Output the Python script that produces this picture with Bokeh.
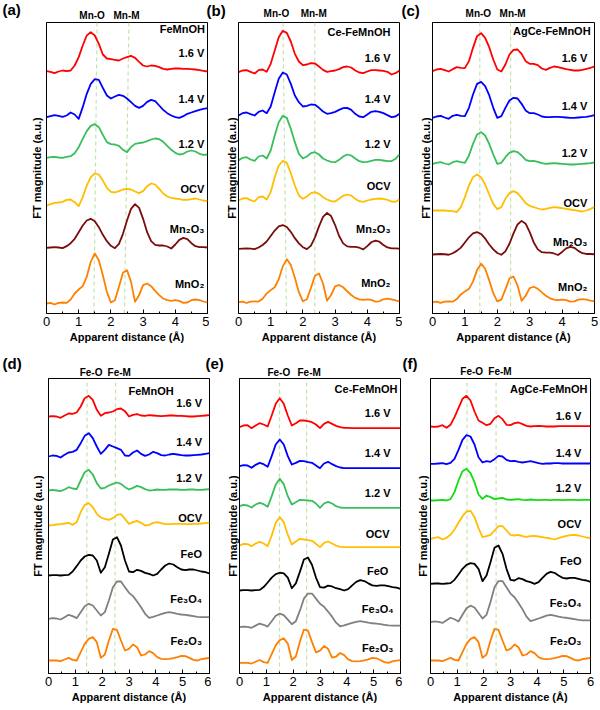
from bokeh.plotting import figure
from bokeh.layouts import row, column
from bokeh.models import Range1d, Label, FixedTicker
from bokeh.embed import file_html
from bokeh.resources import INLINE

FONT = "Liberation Sans"

# ---------------- sampling grids (apparent distance, Å) ----------------
X_TOP = [0.0, 0.125, 0.25, 0.375, 0.5, 0.625, 0.75, 0.875, 1.0, 1.125, 1.25, 1.375, 1.5, 1.625,
         1.75, 1.875, 2.0, 2.125, 2.25, 2.375, 2.5, 2.625, 2.75, 2.875, 3.0, 3.125, 3.25, 3.375,
         3.5, 3.625, 3.75, 3.875, 4.0, 4.125, 4.25, 4.375, 4.5, 4.625, 4.75, 4.875, 5.0]
X_BOT = [0.0, 0.15, 0.3, 0.45, 0.6, 0.75, 0.9, 1.05, 1.2, 1.35, 1.5, 1.65, 1.8, 1.95, 2.1, 2.25,
         2.4, 2.55, 2.7, 2.85, 3.0, 3.15, 3.3, 3.45, 3.6, 3.75, 3.9, 4.05, 4.2, 4.35, 4.5, 4.65,
         4.8, 4.95, 5.1, 5.25, 5.4, 5.55, 5.7, 5.85, 6.0]

# ---------------- Mn K-edge FT magnitudes (a.u., relative to each trace baseline) ----------------
A_16 = [0, -2, -6, -1, 2, 0, 2, 17, 42, 77, 107, 117, 107, 82, 50, 38, 36, 34, 32, 38, 42, 46, 40, 28,
        17, 14, 17, 16, 12, 7, 5, 7, 8, 8, 7, 7, 6, 5, 3, 1, -1]
A_14 = [0, 3, 6, 4, 1, 5, 14, 8, -5, 30, 70, 100, 114, 112, 88, 65, 56, 62, 67, 64, 56, 45, 34, 28,
        34, 46, 52, 48, 35, 22, 12, 5, 0, -2, 3, 10, 14, 18, 22, 25, 27]
A_12 = [0, 2, 3, 1, 0, 3, 5, 14, 32, 57, 80, 96, 101, 92, 69, 47, 41, 40, 36, 24, 17, 32, 42, 44,
        46, 50, 55, 58, 56, 48, 36, 24, 15, 10, 12, 19, 22, 19, 12, 9, 10]
A_OCV = [0, 4, 8, 9, 11, 17, 18, 10, -2, 25, 60, 85, 96, 93, 75, 53, 41, 39, 43, 48, 50, 48, 42, 37,
         43, 58, 66, 63, 50, 36, 27, 23, 21, 19, 17, 17, 19, 21, 18, 15, 13]

B_16 = [0, 5, 6, 1, -4, 6, 8, 1, 25, 65, 105, 124, 118, 92, 55, 32, 21, 23, 27, 26, 17, 7, 1, 3, 5,
        9, 15, 17, 14, 5, -1, -3, 2, 6, 6, 5, 4, 1, -7, -3, 5]
B_14 = [0, 7, 9, 4, 0, 11, 15, 7, 27, 70, 110, 129, 123, 95, 60, 40, 27, 29, 33, 32, 23, 12, 5, 7,
        11, 17, 22, 23, 17, 5, -3, -5, 3, 11, 13, 11, 7, 1, -5, -3, 5]
B_12 = [0, 8, 10, 3, -1, 12, 15, 6, 30, 75, 115, 134, 128, 95, 55, 20, 6, 12, 22, 25, 18, 6, 0, -4,
        -5, 2, 12, 18, 15, 6, -2, -5, -4, -1, 2, 2, 0, -2, -2, 5, 18]
B_OCV = [0, 6, 7, 1, -3, 10, 12, 3, 25, 70, 105, 119, 113, 82, 45, 15, 5, 12, 22, 25, 20, 10, 3, -2,
         -3, 5, 14, 18, 15, 5, -2, -4, 0, 3, 5, 6, 5, 2, -3, -4, 3]

C_16 = [0, 5, 7, 3, -1, 6, 12, 10, 9, 30, 70, 105, 114, 100, 72, 35, 5, -1, 20, 50, 64, 65, 52, 30,
        22, 22, 18, 8, 4, 10, 14, 12, 9, 6, 4, 2, 2, 4, 7, 10, 14]
C_14 = [0, 4, 6, 1, -3, 6, 9, 6, 5, 30, 70, 102, 108, 95, 68, 30, 0, 5, 30, 52, 60, 58, 42, 22, 14,
        14, 10, 4, 2, 2, 3, 3, 2, 1, 0, 0, 1, 2, 3, 5, 8]
C_12 = [0, 3, 5, 1, -2, 5, 8, 5, 3, 25, 60, 88, 95, 85, 60, 28, 0, 3, 20, 33, 38, 35, 25, 12, 8, 9,
        6, 2, 0, 1, 2, 1, 0, -1, -2, -2, -1, 0, 1, 2, 4]
C_OCV = [0, 0, 0, 0, -1, -2, -5, 10, 40, 75, 100, 108, 100, 78, 48, 20, 4, 10, 35, 52, 58, 52, 38, 22,
         14, 10, 6, 3, 5, 8, 10, 9, 7, 5, 3, 1, -1, -3, 0, 5, 10]

MN2O3 = [0, 1, 2, 1, -1, 5, 14, 27, 47, 67, 82, 87, 80, 62, 39, 20, 6, -1, 12, 42, 82, 117, 131, 120,
         87, 47, 20, 9, 7, 7, 4, -2, 10, 24, 30, 26, 14, 5, 2, 2, 1]
MNO2 = [0, 2, -3, 2, 3, 2, 12, 30, 42, 52, 80, 125, 150, 130, 85, 35, 3, 10, 50, 92, 100, 65, 5, 25,
        55, 60, 52, 38, 25, 15, 10, 8, 10, 8, 2, 3, 10, 12, 10, 6, 3]

# ---------------- Fe K-edge FT magnitudes ----------------
D_16 = [0, 1, 0, -4, 3, 9, 8, 12, 30, 55, 62, 50, 20, 2, 10, 12, 15, 22, 24, 16, 0, 5, 7, 3, 2, 4,
        3, 2, 1, 2, 3, 3, 2, 2, 1, 0, 0, 1, 2, 3, 4]
D_14 = [0, 3, 2, -3, 5, 12, 14, 20, 40, 62, 70, 55, 30, 8, 20, 35, 30, 25, 20, 3, 2, 12, 18, 8, 2,
        6, 14, 10, 4, 3, 6, 8, 6, 4, 3, 3, 4, 5, 6, 8, 10]
D_12 = [0, 2, 0, -2, 3, 10, 6, 4, 30, 55, 62, 48, 22, 6, 8, 15, 20, 24, 20, 10, 3, 8, 14, 10, 4, 0,
        1, 3, 2, 2, 3, 3, 3, 2, 2, 3, 3, 2, 2, 3, 4]
D_OCV = [0, 1, 3, 4, 6, 8, 2, 10, 40, 62, 67, 55, 35, 24, 20, 17, 22, 32, 34, 20, 5, 10, 14, 8, 0, 2,
         8, 10, 7, 4, 4, 5, 5, 5, 4, 4, 5, 5, 6, 7, 8]

E_16 = [0, 5, 6, -3, 5, 12, 8, 2, 35, 70, 87, 70, 35, 5, 12, 20, 20, 18, 15, 8, -3, 10, 16, 10, 4,
        0, -2, -2, -3, -3, -3, -3, -3, -3, -3, -3, -3, -3, -3, -3, -3]
E_14 = [0, 3, 2, -5, 4, 10, 6, -2, 30, 65, 80, 65, 30, 5, 10, 16, 15, 12, 10, 2, -6, 8, 13, 6, 0,
        -4, -6, -6, -6, -6, -6, -6, -6, -6, -6, -6, -6, -6, -6, -6, -6]
E_12 = [0, 4, 2, -4, 5, 10, 6, -2, 30, 65, 82, 66, 30, 5, 12, 19, 18, 17, 16, 8, -5, 8, 13, 8, 0,
        -4, -5, -5, -5, -5, -5, -5, -5, -5, -5, -5, -5, -5, -5, -5, -5]
E_OCV = [0, 5, 4, -2, 6, 11, 6, -2, 30, 68, 85, 70, 32, 3, 12, 20, 18, 16, 14, 5, -5, 8, 12, 6, 0,
         -4, -5, -5, -5, -5, -5, -5, -5, -5, -5, -5, -5, -5, -5, -5, -5]

F_16 = [0, -1, 0, 4, -4, 5, 28, 55, 83, 92, 78, 45, 18, 11, 4, 8, 25, 32, 22, 5, 4, 10, 12, 7, 2, 0,
        1, 2, 1, 0, 0, 0, 1, 1, 1, 1, 1, 1, 1, 1, 1]
F_14 = [0, 0, 1, 2, -1, 3, 15, 42, 72, 86, 82, 58, 20, 4, 8, 6, 14, 24, 22, 12, 8, 9, 6, 4, 6, 8, 5,
        2, 0, 1, 1, 2, 2, 1, 1, 1, 1, 1, 1, 1, 1]
F_12 = [0, 0, 1, 2, 0, 4, 25, 60, 88, 95, 82, 55, 18, 5, 15, 10, 4, 6, 8, 3, 2, 3, 4, 2, 1, 3, 2, 1,
        2, 2, 1, 2, 2, 1, 2, 2, 2, 1, 2, 2, 2]
F_OCV = [0, 3, 5, -2, 3, 12, 28, 48, 68, 82, 84, 65, 32, 5, 8, 12, 25, 38, 38, 25, 12, 10, 12, 8, 6,
         8, 9, 7, 5, 3, 1, -2, 2, 6, 9, 11, 12, 10, 7, 4, 2]

FEO = [0, 1, 1, 0, 1, 2, 12, 28, 45, 57, 62, 60, 45, 8, 25, 65, 108, 115, 90, 45, 12, 10, 17, 14, 8,
       5, 0, 5, 18, 30, 36, 33, 25, 18, 16, 18, 18, 15, 12, 10, 6]
FE3O4 = [0, 2, 1, -2, 5, 12, 8, 2, 20, 38, 45, 40, 25, 10, 20, 55, 95, 112, 112, 95, 78, 68, 52, 35,
         15, 3, 6, 10, 14, 18, 20, 18, 15, 13, 12, 10, 8, 6, 5, 5, 5]
FE2O3 = [0, 0, 0, -2, 3, 8, 2, 0, 25, 50, 65, 70, 55, 8, 18, 60, 95, 92, 60, 30, 35, 48, 40, 15, 18,
         28, 22, 10, 5, 4, 5, 7, 10, 14, 13, 8, 2, 0, 4, 6, 8]

# ---------------- labels ----------------
MN_NAMES = ["1.6 V", "1.4 V", "1.2 V", "OCV", "Mn\u2082O\u2083", "MnO\u2082"]
FE_NAMES = ["1.6 V", "1.4 V", "1.2 V", "OCV", "FeO", "Fe\u2083O\u2084", "Fe\u2082O\u2083"]
MN_BONDS = ["Mn-O", "Mn-M"]
FE_BONDS = ["Fe-O", "Fe-M"]
X_TICKS_TOP = [0, 1, 2, 3, 4, 5]
X_TICKS_BOT = [0, 1, 2, 3, 4, 5, 6]

MN_COLORS = ["#FF0000", "#0000FF", "#38BE5A", "#FFBE00", "#7A0C0C", "#FF8000"]
FE_COLORS = ["#FF0000", "#0000FF", "#38BE5A", "#FFBE00", "#000000", "#808080", "#FF8000"]
FE_COLORS_F = ["#FF0000", "#0000FF", "#11DD11", "#FFBE00", "#000000", "#808080", "#FF8000"]

# layout: x0 = page x of figure, w = figure width, h = plot height,
# bl/br/bb = borders, fw = frame width
PANELS = [
    dict(letter="(a)", sample="FeMnOH", curves=[A_16, A_14, A_12, A_OCV, MN2O3, MNO2],
         scale=[1, 1, 1, 1, 1.0, 1.0], off=[727, 589, 467, 324, 197, 30],
         names=MN_NAMES, colors=MN_COLORS, bonds=MN_BONDS, xs=X_TOP, ticks=X_TICKS_TOP,
         bond_bot=[1.47, 2.42], bond_top=[1.57, 2.56], bond_lx=[1.02, 2.08], bond_hy=6,
         x0=0, w=209, h=324, bl=46, br=2, bb=32, fw=161, ymax=873, ystand=4,
         let_px=2, let_hy=12, samp_xy=(4.92, 855), samp_align="right",
         name_x=4.9, name_align="right", name_y=[783, 645, 510, 375, 255, 90]),
    dict(letter="(b)", sample="Ce-FeMnOH", curves=[B_16, B_14, B_12, B_OCV, MN2O3, MNO2],
         scale=[1, 1, 1, 1, 0.82, 0.86], off=[724, 594, 459, 339, 194, 34],
         names=MN_NAMES, colors=MN_COLORS, bonds=MN_BONDS, xs=X_TOP, ticks=X_TICKS_TOP,
         bond_bot=[1.49, 2.37], bond_top=[1.38, 2.37], bond_lx=[0.78, 1.93], bond_hy=8,
         x0=209, w=193, h=324, bl=29, br=3, bb=32, fw=161, ymax=873, ystand=1,
         let_px=206, let_hy=11, samp_xy=(4.72, 846), samp_align="right",
         name_x=4.72, name_align="right", name_y=[768, 645, 510, 384, 255, 93]),
    dict(letter="(c)", sample="AgCe-FeMnOH", curves=[C_16, C_14, C_12, C_OCV, MN2O3, MNO2],
         scale=[1, 1, 1, 1, 0.77, 0.77], off=[727, 587, 449, 309, 177, 34],
         names=MN_NAMES, colors=MN_COLORS, bonds=MN_BONDS, xs=X_TOP, ticks=X_TICKS_TOP,
         bond_bot=[1.46, 2.41], bond_top=[1.46, 2.41], bond_lx=[1.02, 2.07], bond_hy=8,
         x0=402, w=198, h=324, bl=30, br=6, bb=32, fw=162, ymax=873, ystand=1,
         let_px=401, let_hy=11, samp_xy=(4.88, 849), samp_align="right",
         name_x=4.78, name_align="right", name_y=[768, 624, 483, 333, 216, 81]),
    dict(letter="(d)", sample="FeMnOH", curves=[D_16, D_14, D_12, D_OCV, FEO, FE3O4, FE2O3],
         scale=[1, 1, 1, 1, 1.0, 1.0, 1.0], off=[771, 651, 549, 444, 294, 164, 39],
         names=FE_NAMES, colors=FE_COLORS, bonds=FE_BONDS, xs=X_BOT, ticks=X_TICKS_BOT,
         bond_bot=[1.42, 2.47], bond_top=[1.44, 2.5], bond_lx=[1.16, 2.2], bond_hy=5,
         x0=0, w=211, h=333, bl=48, br=2, bb=37, fw=161, ymax=885, ystand=5,
         let_px=2, let_hy=14, samp_xy=(2.98, 849), samp_align="left",
         name_x=5.72, name_align="right", name_y=[813, 696, 588, 468, 360, 225, 99]),
    dict(letter="(e)", sample="Ce-FeMnOH", curves=[E_16, E_14, E_12, E_OCV, FEO, FE3O4, FE2O3],
         scale=[1, 1, 1, 1, 0.86, 0.9, 1.05], off=[739, 622, 502, 384, 249, 139, 32],
         names=FE_NAMES, colors=FE_COLORS, bonds=FE_BONDS, xs=X_BOT, ticks=X_TICKS_BOT,
         bond_bot=[1.49, 2.5], bond_top=[1.49, 2.5], bond_lx=[1.04, 2.16], bond_hy=5,
         x0=211, w=191, h=333, bl=28, br=2, bb=37, fw=161, ymax=885, ystand=1,
         let_px=205, let_hy=14, samp_xy=(5.89, 855), samp_align="right",
         name_x=5.15, name_align="center", name_y=[783, 663, 543, 420, 309, 195, 78]),
    dict(letter="(f)", sample="AgCe-FeMnOH", curves=[F_16, F_14, F_12, F_OCV, FEO, FE3O4, FE2O3],
         scale=[1, 1, 1, 1, 1.0, 1.1, 1.0], off=[741, 629, 519, 404, 269, 154, 39],
         names=FE_NAMES, colors=FE_COLORS_F, bonds=FE_BONDS, xs=X_BOT, ticks=X_TICKS_BOT,
         bond_bot=[1.37, 2.46], bond_top=[1.37, 2.46], bond_lx=[1.12, 2.17], bond_hy=6,
         x0=402, w=198, h=333, bl=28, br=10, bb=37, fw=160, ymax=885, ystand=2,
         let_px=402, let_hy=14, samp_xy=(5.89, 855), samp_align="right",
         name_x=5.66, name_align="right", name_y=[774, 663, 558, 450, 339, 213, 99]),
]


def label(p, x, y, text, align="right", size="11px", bold=True):
    p.add_layout(Label(x=x, y=y, text=text, text_align=align, text_baseline="middle",
                       text_font=FONT, text_font_size=size,
                       text_font_style="bold" if bold else "normal", text_color="black"))


def header_row(specs, height):
    """Full-width strip (page-pixel coordinates) holding panel letters and bond labels."""
    p = figure(width=600, height=height, x_range=Range1d(0, 600), y_range=Range1d(0, height),
               output_backend="svg", toolbar_location=None, x_axis_type=None, y_axis_type=None,
               min_border_left=0, min_border_right=0, min_border_top=0, min_border_bottom=0)
    p.grid.visible = False
    p.outline_line_color = None
    p.background_fill_color = "white"
    p.border_fill_color = "white"
    for s in specs:
        ppu = s["fw"] / s["ticks"][-1]
        frame_left = s["x0"] + s["bl"]
        for b, bx in zip(s["bonds"], s["bond_lx"]):
            label(p, frame_left + bx * ppu, s["bond_hy"], b, align="left", size="10px")
        label(p, s["let_px"], s["let_hy"], s["letter"], align="left", size="15px")
    return p


def build(s):
    xmax = s["ticks"][-1]
    p = figure(width=s["w"], height=s["h"], x_range=Range1d(0, xmax), y_range=Range1d(0, s["ymax"]),
               output_backend="svg", toolbar_location=None,
               min_border_left=s["bl"], min_border_right=s["br"],
               min_border_top=1, min_border_bottom=s["bb"])
    p.grid.visible = False
    p.outline_line_color = "black"
    p.outline_line_width = 1
    p.background_fill_color = "white"
    p.border_fill_color = "white"

    xa = p.xaxis[0]
    xa.ticker = FixedTicker(ticks=s["ticks"], minor_ticks=[t + 0.5 for t in s["ticks"][:-1]])
    xa.major_tick_in = 4
    xa.major_tick_out = 0
    xa.minor_tick_in = 2
    xa.minor_tick_out = 0
    xa.major_tick_line_color = "black"
    xa.minor_tick_line_color = "black"
    xa.major_label_standoff = 3
    xa.major_label_text_font = FONT
    xa.major_label_text_font_size = "13px"
    xa.major_label_text_color = "black"
    xa.axis_label = "Apparent distance (\u00c5)"
    xa.axis_label_text_font = FONT
    xa.axis_label_text_font_size = "11px"
    xa.axis_label_text_font_style = "bold"
    xa.axis_label_text_color = "black"
    xa.axis_label_standoff = 2
    xa.axis_line_color = "black"

    ya = p.yaxis[0]
    ya.ticker = FixedTicker(ticks=[])
    ya.major_tick_in = 0
    ya.major_tick_out = 0
    ya.minor_tick_in = 0
    ya.minor_tick_out = 0
    ya.axis_line_color = "black"
    ya.axis_label = "FT magnitude (a.u.)"
    ya.axis_label_text_font = FONT
    ya.axis_label_text_font_size = "11px"
    ya.axis_label_text_font_style = "bold"
    ya.axis_label_text_color = "black"
    ya.axis_label_standoff = s["ystand"]

    # bond reference lines
    p.segment(x0=s["bond_bot"], y0=[0, 0], x1=s["bond_top"], y1=[s["ymax"], s["ymax"]],
              line_color="#C4E4AE", line_width=1.2, line_dash="4 3")

    # stacked FT curves
    for vals, sc, off, col in zip(s["curves"], s["scale"], s["off"], s["colors"]):
        ys = [off + sc * v for v in vals]
        p.line(s["xs"], ys, line_color=col, line_width=1.8, line_join="round")

    # texts
    for name, yy in zip(s["names"], s["name_y"]):
        label(p, s["name_x"], yy, name, align=s["name_align"])
    label(p, s["samp_xy"][0], s["samp_xy"][1], s["sample"], align=s["samp_align"])
    return p


plots = [build(s) for s in PANELS]
layout = column(
    header_row(PANELS[:3], 21),
    row(plots[0], plots[1], plots[2], spacing=0),
    header_row(PANELS[3:], 32),
    row(plots[3], plots[4], plots[5], spacing=0),
    spacing=0,
)

open("out.html", "w").write(file_html(layout, INLINE))
